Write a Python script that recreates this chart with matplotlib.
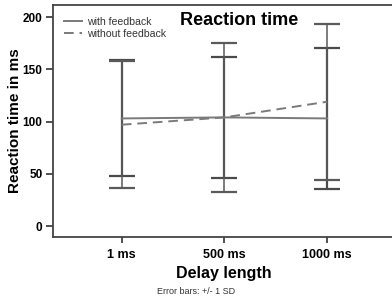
import matplotlib.pyplot as plt

plt.rcParams['font.family'] = ['Liberation Sans', 'DejaVu Sans']

delays = ['1 ms', '500 ms', '1000 ms']
with_mean = [103, 104, 103]
with_sd = [55.5, 58, 67.5]
without_mean = [97, 104, 119]
without_sd = [61, 71.5, 74.5]

x = list(range(len(delays)))

fig = plt.figure(figsize=(3.92, 3.0), dpi=100)
ax = fig.add_axes([0.135, 0.21, 0.87, 0.773])

# Barras de error (+/- 1 SD)
ax.errorbar(x, with_mean, yerr=with_sd, fmt='none', ecolor='#4a4a4a',
            elinewidth=1.6, capsize=9.5, capthick=1.6)
ax.errorbar(x, without_mean, yerr=without_sd, fmt='none', ecolor='#5a5a5a',
            elinewidth=1.1, capsize=9.5, capthick=1.6)

# Medias
ax.plot(x, with_mean, color='#7a7a7a', lw=1.4, label='with feedback')
ax.plot(x, without_mean, color='#7a7a7a', lw=1.4, ls=(0, (5, 3)), label='without feedback')

ax.set_xlim(-0.67, 2.65)
ax.set_ylim(-10.5, 211.5)
ax.set_xticks(x)
ax.set_xticklabels(delays, fontsize=9, fontweight='bold')
ax.set_yticks([0, 50, 100, 150, 200])
ax.tick_params(axis='y', labelsize=8.5, length=5, width=1.2, colors='#333333', pad=2.5)
ax.tick_params(axis='x', length=4, width=1.2, colors='#333333', pad=5)
for lbl in ax.get_yticklabels():
    lbl.set_fontweight('bold')
    lbl.set_color('black')
for lbl in ax.get_xticklabels():
    lbl.set_color('black')

for s in ['left', 'bottom', 'top']:
    ax.spines[s].set_color('#444444')
    ax.spines[s].set_linewidth(1.3)
ax.spines['right'].set_visible(False)

ax.set_ylabel('Reaction time in ms', fontsize=11, fontweight='bold')
ax.yaxis.set_label_coords(-0.092, 0.5)
ax.set_xlabel('Delay length', fontsize=11.5, fontweight='bold', labelpad=3)
ax.text(0.547, 0.933, 'Reaction time', transform=ax.transAxes, ha='center', va='center',
        fontsize=13, fontweight='bold')

ax.legend(loc='upper left', bbox_to_anchor=(0.005, 0.99), frameon=False, fontsize=7.6,
          handlelength=1.7, handletextpad=0.5, labelspacing=0.15, labelcolor='#333333')

fig.text(0.5, 0.027, 'Error bars: +/- 1 SD', ha='center', va='center', fontsize=6.5,
         color='#333333')

fig.savefig('out.png', dpi=100)
